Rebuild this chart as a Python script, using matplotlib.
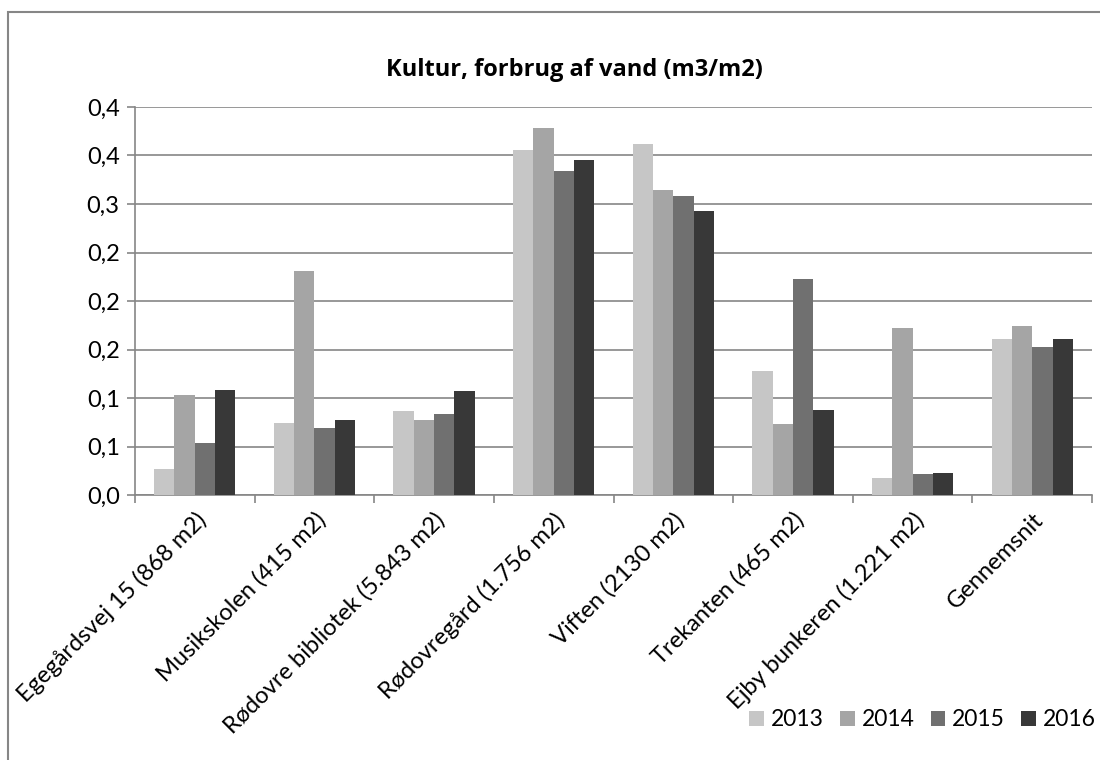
import numpy as np
import matplotlib
matplotlib.use('Agg')
import matplotlib.pyplot as plt
from matplotlib.patches import Rectangle
from matplotlib.ticker import FuncFormatter

plt.rcParams['font.family'] = ['Lato', 'DejaVu Sans']

# === data ===
steder = ['Egegårdsvej 15 (868 m2)', 'Musikskolen (415 m2)', 'Rødovre bibliotek (5.843 m2)',
          'Rødovregård (1.756 m2)', 'Viften (2130 m2)', 'Trekanten (465 m2)',
          'Ejby bunkeren (1.221 m2)', 'Gennemsnit']
aar = ['2013', '2014', '2015', '2016']
v2013 = [0.027, 0.074, 0.087, 0.356, 0.362, 0.128, 0.018, 0.161]
v2014 = [0.103, 0.231, 0.077, 0.378, 0.314, 0.073, 0.172, 0.174]
v2015 = [0.054, 0.069, 0.084, 0.334, 0.308, 0.223, 0.022, 0.153]
v2016 = [0.108, 0.077, 0.107, 0.345, 0.293, 0.088, 0.023, 0.161]
farver = ['#c6c6c6', '#a5a5a5', '#707070', '#383838']

fig = plt.figure(figsize=(11, 7.6), dpi=100)
ax = fig.add_axes([135/1100, 1 - 495/760, (1092 - 135)/1100, (495 - 107)/760])

x = np.arange(len(steder))
w = 0.17
for i, (serie, f) in enumerate(zip([v2013, v2014, v2015, v2016], farver)):
    ax.bar(x + (i - 1.5) * w, serie, w, color=f, label=aar[i], zorder=3)

ax.set_xlim(-0.5, len(steder) - 0.5)
ax.set_ylim(0, 0.4)
ax.set_yticks(np.arange(0, 0.401, 0.05))
ax.yaxis.set_major_formatter(FuncFormatter(lambda v, p: ('%.1f' % v).replace('.', ',')))
ax.yaxis.grid(True, color='#868686', lw=1.2, zorder=0)

# ticks between categories, labels at centres
ax.set_xticks(np.arange(-0.5, len(steder), 1))
ax.set_xticklabels([])
ax.set_xticks(x, minor=True)
ax.set_xticklabels(steder, minor=True, rotation=45, ha='right', va='top',
                   rotation_mode='anchor', fontsize=17)
ax.tick_params(axis='x', which='minor', length=0, pad=10)
ax.tick_params(axis='x', which='major', length=6, color='#868686', width=1.2)
ax.tick_params(axis='y', length=6, color='#868686', width=1.2, labelsize=17, pad=5)

for s in ['top', 'right']:
    ax.spines[s].set_visible(False)
for s in ['left', 'bottom']:
    ax.spines[s].set_color('#868686')
    ax.spines[s].set_linewidth(1.2)

fig.text(574/1100, 1 - 70/760, 'Kultur, forbrug af vand (m3/m2)', ha='center', va='center',
         fontsize=17, fontweight='bold', family=['Open Sans', 'DejaVu Sans'])

fig.legend(loc='center right', bbox_to_anchor=(1096/1100, 1 - 720/760), ncol=4, frameon=False,
           fontsize=16.5, handlelength=0.65, handleheight=0.65, handletextpad=0.3,
           columnspacing=0.7, borderaxespad=0, borderpad=0)

# outer chart frame (only top and left edges fall inside the picture)
fig.patches.append(Rectangle((8/1100, -0.1), 1.2, 1.1 - 12/760, transform=fig.transFigure,
                             fill=False, edgecolor='#868686', lw=1.5))

fig.savefig('out.png', dpi=100)
